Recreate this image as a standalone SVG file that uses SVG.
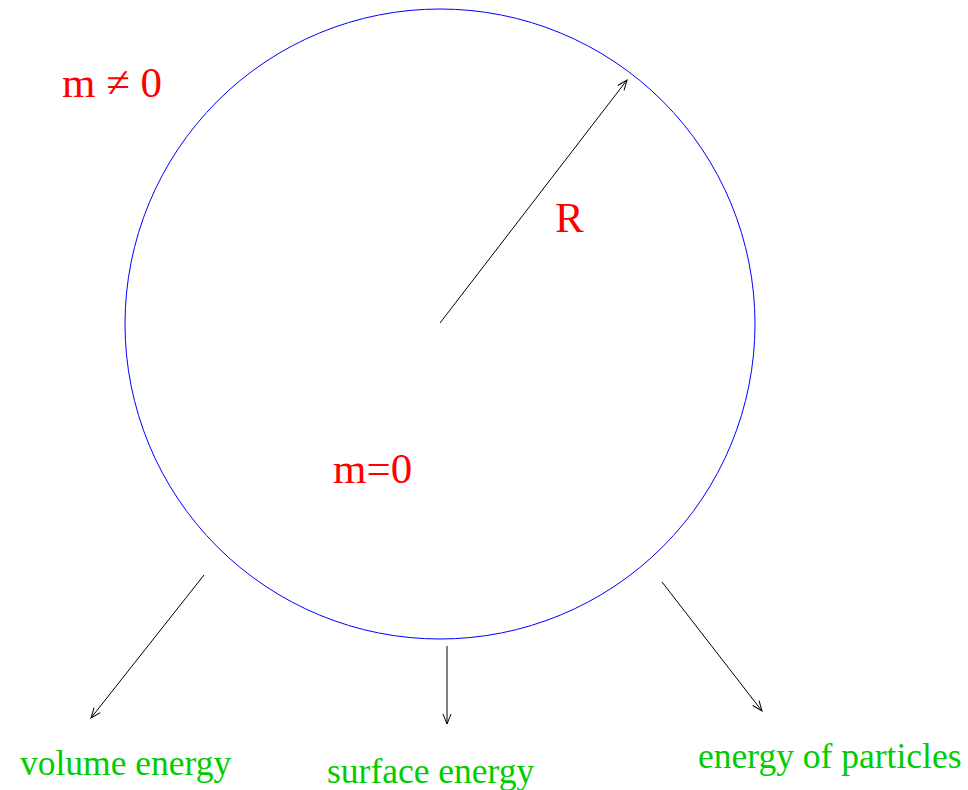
<svg xmlns="http://www.w3.org/2000/svg" width="968" height="790" viewBox="0 0 968 790">
<style>
.lbl{font-family:"Liberation Serif","Times New Roman",serif;}
.red{fill:#ff0000;font-size:43px;}
.grn{fill:#00cc00;font-size:35.5px;}
.arr{stroke:#000;stroke-width:1;fill:none;marker-end:url(#ah);}
</style>
<defs>
<marker id="ah" markerWidth="14" markerHeight="12" refX="11" refY="5" orient="auto" markerUnits="userSpaceOnUse">
<path d="M1,1 L11,5 L1,9" fill="none" stroke="#000" stroke-width="1"/>
</marker>
</defs>
<rect width="968" height="790" fill="#fff"/>
<g id="circle"><circle cx="440" cy="324" r="315" fill="none" stroke="#0000ff" stroke-width="1"/></g>
<g id="connectors">
<line class="arr" x1="440" y1="323" x2="627" y2="80"/>
<line class="arr" x1="204" y1="575" x2="91" y2="718"/>
<line class="arr" x1="447" y1="646" x2="447" y2="724"/>
<line class="arr" x1="662" y1="582" x2="762" y2="711"/>
</g>
<g id="label-mneq"><text class="lbl red" x="62" y="97">m ≠ 0</text></g>
<g id="label-R"><text class="lbl red" x="555" y="232">R</text></g>
<g id="label-m0"><text class="lbl red" x="333" y="483">m=0</text></g>
<g id="label-volume"><text class="lbl grn" x="20" y="775">volume energy</text></g>
<g id="label-surface"><text class="lbl grn" x="327" y="783">surface energy</text></g>
<g id="label-particles"><text class="lbl grn" x="698" y="768">energy of particles</text></g>
</svg>
